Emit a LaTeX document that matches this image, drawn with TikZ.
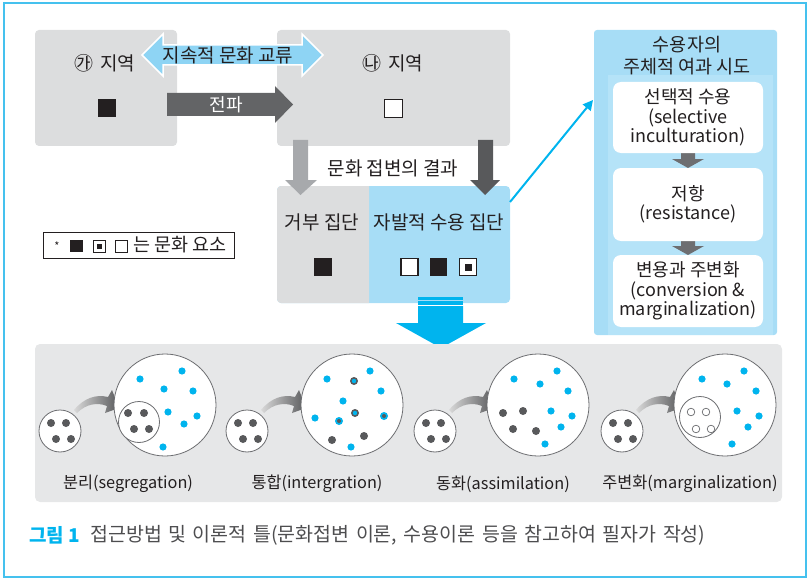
\documentclass[tikz,border=0pt]{standalone}
\usepackage{fontspec}
\setmainfont{Noto Sans CJK KR}
\usetikzlibrary{arrows.meta}
\definecolor{regiongray}{HTML}{DCDDDE}
\definecolor{panelgray}{HTML}{E6E7E8}
\definecolor{lightblue}{HTML}{A7DDF6}
\definecolor{paleblue}{HTML}{B5E3F8}
\definecolor{arrowblue}{HTML}{8ED4F4}
\definecolor{cyanc}{HTML}{00B4EE}
\definecolor{darkg}{HTML}{58595B}
\definecolor{midg}{HTML}{636466}
\definecolor{lightg}{HTML}{A7A9AC}
\definecolor{txtc}{HTML}{231F20}
\definecolor{circg}{HTML}{6D6E71}
\definecolor{framec}{HTML}{45C1EE}
\definecolor{capc}{HTML}{4D4D4F}
\begin{document}
\begin{tikzpicture}[x=1pt,y=-1pt,
  lbl/.style={font=\fontsize{19}{22}\selectfont, text=txtc, inner sep=0pt},
  boxtxt/.style={font=\fontsize{18}{19.5}\selectfont, text=txtc, align=center, inner sep=0pt},
  sublbl/.style={font=\fontsize{16.3}{19}\selectfont, text=txtc, inner sep=0pt},
  region/.style={fill=regiongray, rounded corners=4, inner sep=0pt},
  whitebox/.style={fill=white, rounded corners=8, inner sep=0pt, minimum width=150},
  sqfill/.style={fill=txtc},
  sqopen/.style={draw=txtc, line width=1.1, fill=white},
  circ/.style={draw=circg, line width=0.8, fill=white},
  cdot/.style={fill=cyanc},
  ddot/.style={fill=darkg},
  curvarrow/.pic={\shade[left color=black!15, right color=darkg]
     (14,-21) .. controls (24,-33) and (36,-37) .. (48,-34) -- (52,-41) -- (59,-23)
     -- (45,-18) -- (47,-25) .. controls (37,-29) and (26,-27) .. (17,-18) -- cycle;},
  smallgrp/.pic={\draw[circ] (0,0) circle (21pt);
     \fill[ddot] (-9,-8) circle (4pt); \fill[ddot] (6,-8) circle (4pt);
     \fill[ddot] (-4,8) circle (4pt); \fill[ddot] (11,8) circle (4pt);}
]
\useasboundingbox (0,0) rectangle (807,578);
% outer frame
\draw[framec, line width=1.2] (4,3) rectangle (806,577);

% regions
\node[region, minimum width=142, minimum height=116] (ga) at (106,88) {};
\node[region, minimum width=233, minimum height=116] (na) at (393.5,88) {};
\node[lbl] (gat) at (105,63) {㉮\,\,지역};
\node[lbl] (nat) at (393,63) {㉯\,\,지역};
\fill[sqfill] (97.5,99.5) rectangle (115.5,117.5);
\draw[sqopen] (384.5,99.5) rectangle (402.5,117.5);

% double arrow
\filldraw[fill=arrowblue, draw=white, line width=1.5]
  (142,55) -- (163,34) -- (163,45) -- (302,45) -- (302,34) -- (323,55) -- (302,76) -- (302,65) -- (163,65) -- (163,76) -- cycle;
\node[lbl] (exch) at (228,55) {지속적 문화 교류};
% spread arrow
\fill[midg] (167,93) -- (275,93) -- (275,86) -- (293,104.5) -- (275,123) -- (275,116) -- (167,116) -- cycle;
\node[lbl, text=white, font=\fontsize{18}{20}\selectfont] (spread) at (226,104.5) {전파};

% lower group box
\node[fill=lightblue, rounded corners=4, minimum width=233, minimum height=117, inner sep=0] (jabal) at (393.5,244.5) {};
\begin{scope}
\clip (277,186) rectangle (369,303);
\fill[regiongray, rounded corners=4] (277,186) rectangle (510,303);
\end{scope}
% down arrows
\fill[lightg] (293,140) -- (308,140) -- (308,180) -- (317,180) -- (300.5,195) -- (285,180) -- (293,180) -- cycle;
\fill[darkg] (478,140) -- (493,140) -- (493,180) -- (500,180) -- (485,195) -- (470,180) -- (478,180) -- cycle;
\node[lbl] (result) at (393,168) {문화 접변의 결과};
\node[lbl] (reject) at (322,222) {거부 집단};
\node[lbl] (accept) at (439,222) {자발적 수용 집단};
\fill[sqfill] (314,258) rectangle (332,276);
\draw[sqopen] (401,258.5) rectangle (418,275.5);
\fill[sqfill] (430,258) rectangle (447,276);
\draw[sqopen] (459.5,258.5) rectangle (476.5,275.5);
\fill[sqfill] (464.5,263.5) rectangle (471.5,270.5);

% big cyan arrow
\fill[cyanc] (418,296.5) rectangle (463,299.5);
\fill[cyanc] (418,301) rectangle (463,304.5);
\fill[cyanc] (418,306) -- (463,306) -- (463,323) -- (486,323) -- (441,348) -- (396,323) -- (418,323) -- cycle;

% legend
\node[draw=txtc, line width=0.7, minimum width=191, minimum height=26, inner sep=0] (legend) at (138.5,245) {};
\node[lbl, font=\fontsize{11}{12}\selectfont] (ast) at (57,246) {*};
\fill[sqfill] (70,240) rectangle (83,252);
\draw[sqopen, line width=0.9] (93.5,240) rectangle (105.5,252);
\fill[sqfill] (97,243.5) rectangle (102,248.5);
\draw[sqopen, line width=0.9] (115.5,240) rectangle (127.5,252);
\node[lbl, font=\fontsize{18.5}{20}\selectfont] (legt) at (180,245) {는 문화 요소};

% right panel
\node[fill=lightblue, rounded corners=3, minimum width=183, minimum height=305, inner sep=0] (panel) at (685.5,182.5) {};
\fill[paleblue] (608,75) rectangle (773,335);
\node[boxtxt, font=\fontsize{18.5}{22}\selectfont] (ptitle) at (687,56) {수용자의\\주체적 여과 시도};
\fill[circg] (681,150) -- (695,150) -- (695,159) -- (704,159) -- (688,168) -- (672,159) -- (681,159) -- cycle;
\fill[circg] (681,238) -- (695,238) -- (695,246) -- (704,246) -- (688,255) -- (672,246) -- (681,246) -- cycle;
\node[whitebox, minimum height=71] (b1) at (688,117.5) {};
\node[whitebox, minimum height=73] (b2) at (688,204.5) {};
\node[whitebox, minimum height=72] (b3) at (688,291) {};
\node[boxtxt] (b1t) at (b1) {선택적 수용\\(selective\\inculturation)};
\node[boxtxt] (b2t) at (b2) {저항\\(resistance)};
\node[boxtxt] (b3t) at (b3) {변용과 주변화\\(conversion \&\\marginalization)};

% cyan connector
\coordinate (cs) at (510,202);
\coordinate (ce) at (593,100);
\draw[cyanc, line width=2, -{Triangle[length=10,width=10]}] (cs) -- (ce);

% bottom panel
\node[fill=panelgray, rounded corners=5, minimum width=747, minimum height=158, inner sep=0] (bottom) at (408.5,423) {};

% diagram 1: segregation
\pic at (60,431) {smallgrp};
\pic at (60,431) {curvarrow};
\draw[circ] (165,405) circle (51pt);
\draw[circ] (139,422) circle (20.5pt);
\foreach \p in {(128,413),(144,413),(134,429),(149,429)} \fill[ddot] \p circle (4pt);
\foreach \p in {(140,379),(182,371),(164,389),(193,391),(168,412),(197,416),(184,424),(163,447)} \fill[cdot] \p circle (3.6pt);
\node[sublbl] (l1) at (128,484) {분리(segregation)};

% diagram 2: integration
\pic at (247,431) {smallgrp};
\pic at (247,431) {curvarrow};
\draw[circ] (352,405) circle (51pt);
\foreach \p in {(327,379),(370,371),(381,391),(343,401),(315,418),(351,447)} \fill[cdot] \p circle (3.6pt);
\foreach \p in {(354,381),(355,413)} {\fill[darkg] \p circle (4pt); \fill[cyanc] \p circle (2.2pt);}
\foreach \p in {(384,416),(339,421)} {\fill[cyanc] \p circle (4pt); \fill[darkg] \p circle (2pt);}
\foreach \p in {(332,440),(364,436)} \fill[ddot] \p circle (4pt);
\node[sublbl] (l2) at (317,484) {통합(intergration)};

% diagram 3: assimilation
\pic at (435,431) {smallgrp};
\pic at (435,431) {curvarrow};
\draw[circ] (538,405) circle (51pt);
\foreach \p in {(503,413),(523,411),(513,429),(536,431)} \fill[ddot] \p circle (4pt);
\foreach \p in {(514,379),(557,371),(540,384),(568,391),(551,411),(572,416),(561,427),(545,444)} \fill[cdot] \p circle (3.6pt);
\node[sublbl] (l3) at (503,484) {동화(assimilation)};

% diagram 4: marginalization
\pic at (622,431) {smallgrp};
\pic at (622,431) {curvarrow};
\draw[circ] (725,405) circle (51pt);
\draw[circ] (700,417) circle (20.5pt);
\foreach \p in {(691,412),(706,412),(696,429),(711,429)} \draw[circg, line width=0.7] \p circle (3.8pt);
\foreach \p in {(702,379),(744,371),(727,384),(756,391),(737,411),(759,416),(748,427),(732,444)} \fill[cdot] \p circle (3.6pt);
\node[sublbl] (l4) at (690,484) {주변화(marginalization)};

% caption
\node[anchor=west, inner sep=0, text=cyanc, font=\fontsize{19}{21}\selectfont\bfseries] (capnum) at (29,535) {그림 1};
\node[anchor=west, inner sep=0, text=capc, font=\fontsize{19.5}{21}\selectfont] (cap) at (90,535) {\spaceskip=6.5pt\relax 접근방법 및 이론적 틀(문화접변 이론, 수용이론 등을 참고하여 필자가 작성)};
\end{tikzpicture}
\end{document}
